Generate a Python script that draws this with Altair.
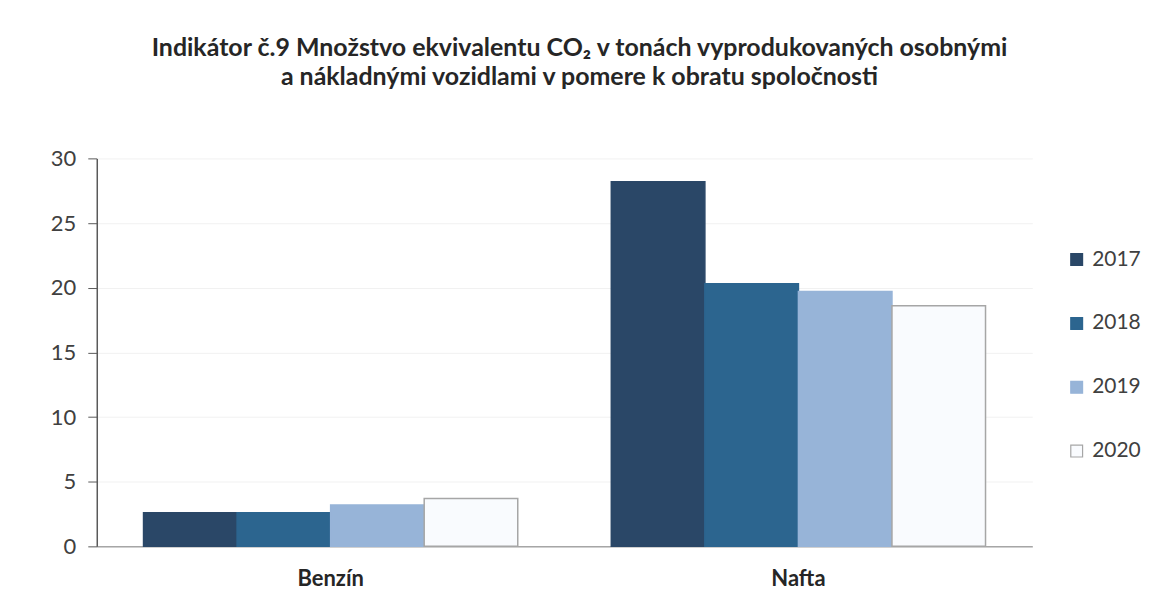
import altair as alt
import pandas as pd

categories = ["Benzín", "Nafta"]
years = ["2017", "2018", "2019", "2020"]
values_2017 = [2.6, 28.2]
values_2018 = [2.6, 20.3]
values_2019 = [3.2, 19.7]
values_2020 = [3.7, 18.6]

fill_colors = ["#2a4767", "#2c658f", "#97b4d8", "#f9fbfe"]
stroke_colors = ["#2a4767", "#2c658f", "#97b4d8", "#a6a6a6"]

series = [values_2017, values_2018, values_2019, values_2020]
rows = []
for y, vals in zip(years, series):
    for c, v in zip(categories, vals):
        rows.append({"kategória": c, "rok": y, "hodnota": v})
df = pd.DataFrame(rows)

FONT = "Lato"

chart = alt.Chart(df).mark_bar(strokeWidth=1.5).encode(
    x=alt.X("kategória:N", sort=categories, title=None,
            scale=alt.Scale(paddingInner=0.2, paddingOuter=0.1),
            axis=alt.Axis(labelAngle=0, ticks=False, domainColor="#a6a6a6",
                          domainWidth=1.5, labelFontSize=22, labelFontWeight="bold",
                          labelColor="#262626", labelPadding=22, labelFont=FONT)),
    xOffset=alt.XOffset("rok:N", sort=years, scale=alt.Scale(paddingInner=0.0)),
    y=alt.Y("hodnota:Q", title=None,
            scale=alt.Scale(domain=[0, 30]),
            axis=alt.Axis(values=[0, 5, 10, 15, 20, 25, 30], tickSize=9,
                          tickColor="#595959", domainColor="#595959", domainWidth=1.5,
                          labelFontSize=22, labelColor="#404040", labelPadding=12,
                          labelFont=FONT, grid=True, gridColor="#f1f1f1")),
    color=alt.Color("rok:N", sort=years,
                    scale=alt.Scale(domain=years, range=fill_colors),
                    legend=alt.Legend(title=None, orient="none", legendX=972, legendY=91,
                                      symbolType="square", symbolSize=140,
                                      symbolStrokeColor="#404040", symbolStrokeWidth=1.2,
                                      labelFontSize=21, labelColor="#404040", labelFont=FONT,
                                      rowPadding=42, labelOffset=5)),
    stroke=alt.Stroke("rok:N", sort=years,
                      scale=alt.Scale(domain=years, range=stroke_colors), legend=None),
).properties(
    width=938,
    height=389,
    autosize=alt.AutoSizeParams(type="none"),
    padding={"left": 89, "top": 150, "right": 114, "bottom": 50},
    title=alt.Title(
        ["Indikátor č.9 Množstvo ekvivalentu CO₂ v tonách vyprodukovaných osobnými",
         "a nákladnými vozidlami v pomere k obratu spoločnosti"],
        font=FONT, fontSize=25, fontWeight="bold", color="#262626",
        anchor="middle", dx=15, offset=58, lineHeight=29,
    ),
).configure_view(stroke=None)

chart.save("out.html", embed_options={"renderer": "svg", "actions": False})
